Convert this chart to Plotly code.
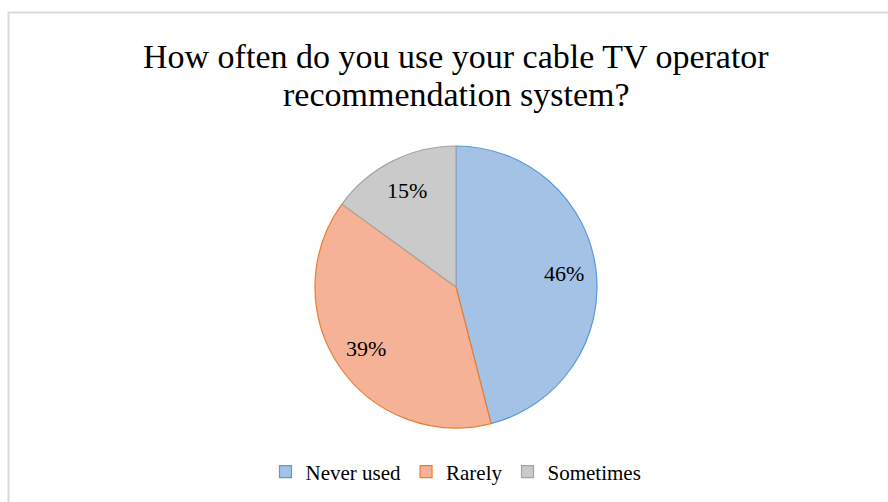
import math
import plotly.graph_objects as go

categories = ["Never used", "Rarely", "Sometimes"]
values = [46, 39, 15]
fill_colors = ["#a4c1e6", "#f5b296", "#cacaca"]
line_colors = ["#5b9bd5", "#ed7d31", "#a5a5a5"]
title_lines = ["How often do you use your cable TV operator", "recommendation system?"]

SERIF = "Liberation Serif, Times New Roman, serif"
W, H = 888, 502
cx, cy, r = 456, 287, 141

fig = go.Figure(go.Pie(
    labels=categories,
    values=values,
    sort=False,
    direction="clockwise",
    rotation=0,
    marker=dict(colors=fill_colors, line=dict(color=line_colors, width=1.2)),
    textinfo="none",
    domain=dict(x=[(cx - r) / W, (cx + r) / W], y=[1 - (cy + r) / H, 1 - (cy - r) / H]),
    hoverinfo="label+percent",
))

# data labels placed along each slice's mid-angle (derived from the values)
total = sum(values)
annotations = []
cum = 0
for v in values:
    mid = (cum + v / 2) / total * 2 * math.pi
    cum += v
    px = cx + 0.77 * r * math.sin(mid)
    py = cy - 0.77 * r * math.cos(mid)
    annotations.append(dict(
        text=f"{round(v / total * 100)}%", x=px / W, y=1 - py / H,
        xref="paper", yref="paper", showarrow=False,
        xanchor="center", yanchor="middle",
        font=dict(family=SERIF, size=22, color="#000000"),
    ))

for i, line in enumerate(title_lines):
    annotations.append(dict(
        text=line, x=cx / W, y=1 - (56 + 38 * i) / H,
        xref="paper", yref="paper", showarrow=False,
        xanchor="center", yanchor="middle",
        font=dict(family=SERIF, size=34, color="#000000"),
    ))

fig.update_layout(
    width=W, height=H,
    margin=dict(l=0, r=0, t=0, b=0),
    paper_bgcolor="white",
    plot_bgcolor="white",
    font=dict(family=SERIF, color="#000000"),
    showlegend=True,
    legend=dict(
        orientation="h",
        x=cx / W, xanchor="center",
        y=1 - 472 / H, yanchor="middle",
        font=dict(family=SERIF, size=21, color="#000000"),
        itemwidth=30,
        traceorder="normal",
    ),
    annotations=annotations,
    shapes=[dict(
        type="rect", xref="paper", yref="paper",
        x0=8.5 / W, x1=1.02, y0=-0.02, y1=1 - 12.5 / H,
        line=dict(color="#d9d9d9", width=2), fillcolor="rgba(0,0,0,0)", layer="below",
    )],
)

fig.write_html("out.html")
